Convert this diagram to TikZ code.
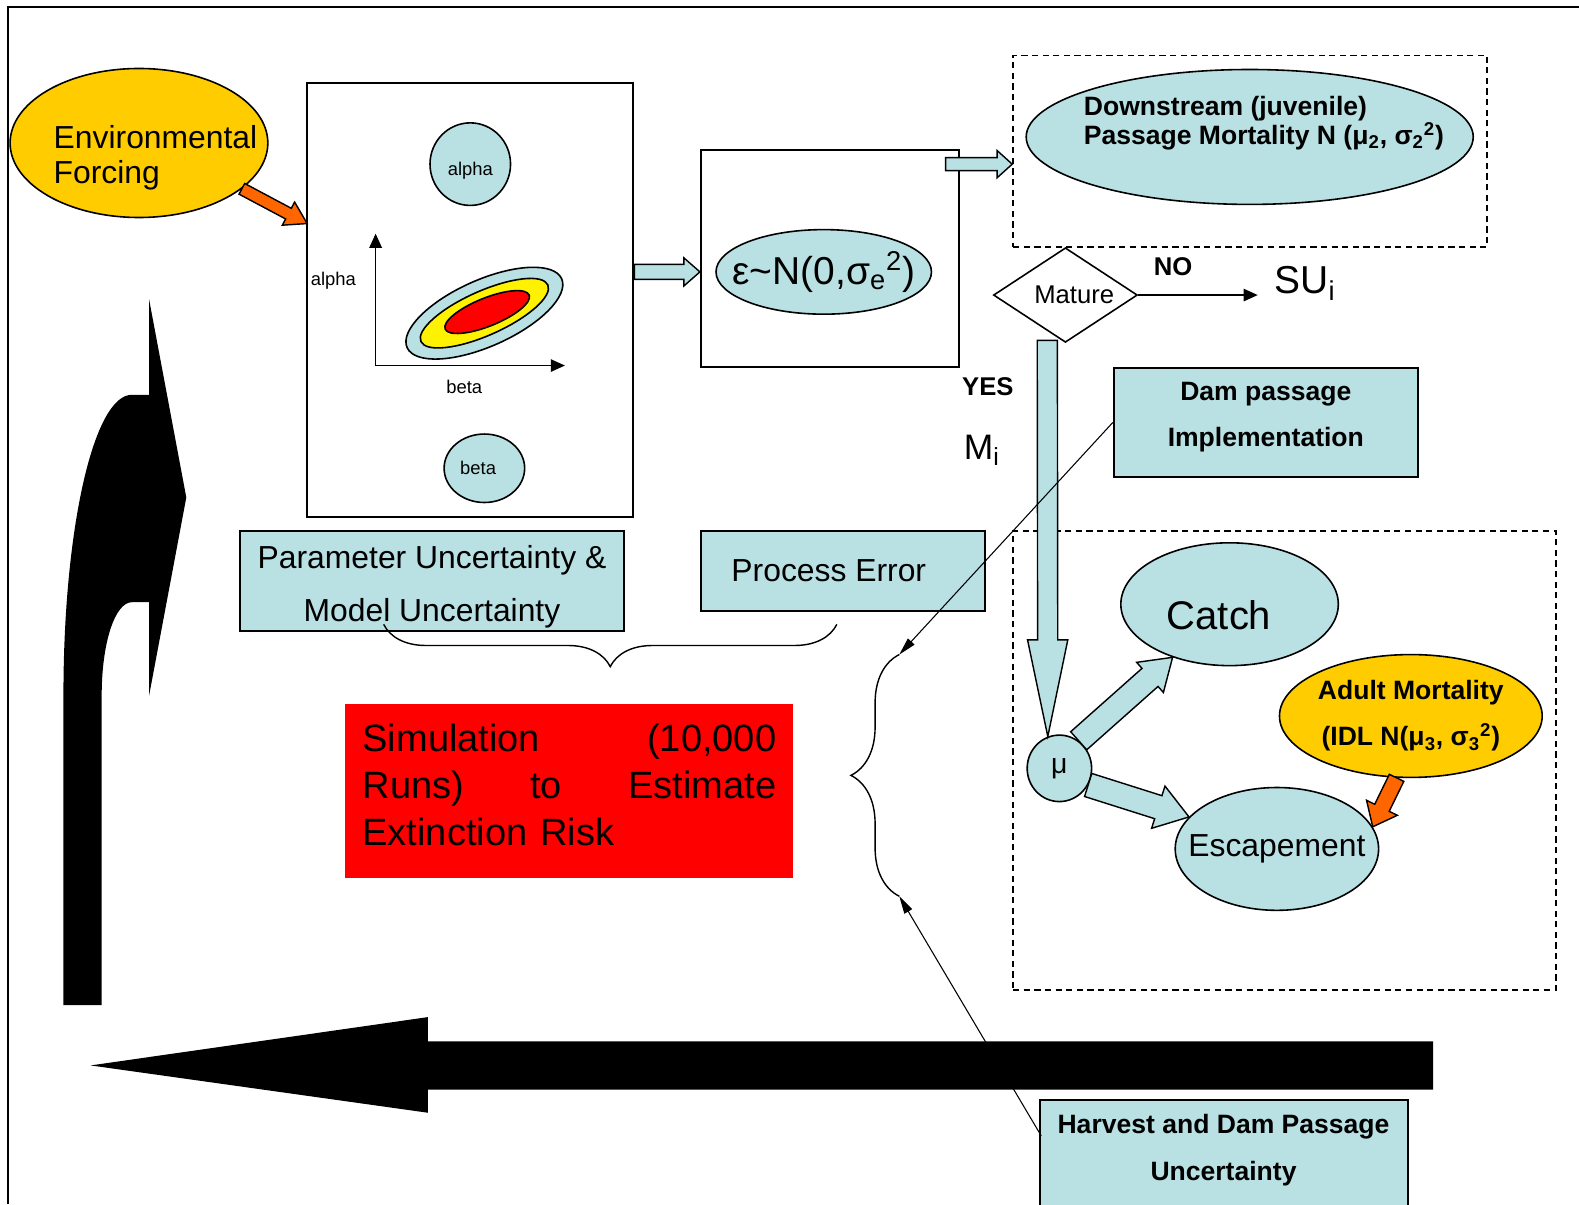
\documentclass[tikz,border=0pt]{standalone}
\usepackage{fontspec}
\setmainfont{Liberation Sans}
\usepackage{tikz}
\usetikzlibrary{shapes.geometric}
\usetikzlibrary{calc}
\usetikzlibrary{arrows.meta}
\usetikzlibrary{decorations.pathreplacing}
\usetikzlibrary{positioning}
\definecolor{paleblue}{HTML}{B9E0E3}
\definecolor{gold}{HTML}{FFCC00}
\definecolor{orangeA}{HTML}{FF6600}
\newcommand{\fsz}[2]{\fontsize{#1}{#2}\selectfont}
\tikzset{
  plainbox/.style={draw, line width=1.1pt, inner sep=0pt}, % Rechtecke
  bluebox/.style={plainbox, fill=paleblue},
  blob/.style={ellipse, draw, line width=0.9pt, fill=paleblue, inner sep=0pt},
  dashbox/.style={draw, line width=1pt, dash pattern=on 3.5pt off 2.5pt},
  smalltxt/.style={font=\fsz{10.4}{12}},
  boldtxt/.style={font=\bfseries\fsz{15}{26}},
  thinline/.style={line width=0.6pt, -{Triangle[length=10pt,width=5pt]}},
  bracket/.style={line width=0.8pt, decorate}
}
% Blockpfeil: [Farbe]{von}{nach}{Schaft}{Spitze}{Spitzenlaenge}
\newcommand{\fatarrow}[6][paleblue]{%
  \coordinate (fa-h) at ($(#3)!#6!(#2)$);
  \filldraw[fill=#1, line width=0.8pt]
    ($(#2)!#4!90:(#3)$) -- ($(fa-h)!#4!90:(#3)$) -- ($(fa-h)!#5!90:(#3)$)
    -- (#3) -- ($(fa-h)!#5!-90:(#3)$) -- ($(fa-h)!#4!-90:(#3)$)
    -- ($(#2)!#4!-90:(#3)$) -- cycle;
}
\begin{document}
\begin{tikzpicture}[x=0.02cm, y=-0.02cm,
  font=\fsz{18}{22},
  >={Triangle[length=8pt,width=7pt]} % Pfeilspitzen
]
\useasboundingbox (0,0) rectangle (1568,1196);

%Rahmen
\draw[line width=1.1pt] (8,1196) -- (8,7) -- (1568,7);

%Rueckkopplung links
\fill (63,998) -- (63,690) .. controls (63,525) and (93,392) .. (131,392) -- (148,392)
  -- (148,297) -- (185,494) -- (148,691) -- (148,598) -- (131,598)
  .. controls (114,598) and (101,639) .. (101,690) -- (101,998) -- cycle;

%Parameter
\node[ellipse, draw, line width=0.9pt, fill=gold, minimum width=5.12cm, minimum height=2.96cm] (env) at (138,142) {};
\node[anchor=west, align=left, inner sep=0pt, font=\fsz{18}{19.8}] (envtxt) at (53,157) {Environmental\\Forcing};
\node[plainbox, minimum width=6.48cm, minimum height=8.62cm] (parbox) at (467,297.5) {};
\node[blob, minimum width=1.6cm, minimum height=1.64cm, smalltxt] (alpha) at (467,163) {\raisebox{-3.5pt}[\height][\depth]{alpha}};
\node[blob, minimum width=1.6cm, minimum height=1.36cm, smalltxt] (beta) at (481,465) {beta\hspace{0.25cm}\mbox{}};
\coordinate (orig) at (373,363);
\coordinate (ytop) at (373,232);
\coordinate (xend) at (561,363);
\draw[line width=0.9pt, ->] (orig) -- (ytop);
\draw[line width=0.9pt, ->] (orig) -- (xend);
\node[smalltxt] (alab) at (331,279) {alpha};
\node[smalltxt] (blab) at (461,384) {beta};
\coordinate (ctr) at (481,311);
\filldraw[fill=paleblue, line width=0.9pt, rotate around={24:(ctr)}] (ctr) ellipse [x radius=84, y radius=33];
\filldraw[fill=yellow, line width=0.9pt, rotate around={24:(ctr)}] (ctr) ellipse [x radius=69, y radius=22];
\filldraw[fill=red, line width=0.9pt, rotate around={22:(ctr)}] ($(ctr)+(3,0)$) ellipse [x radius=45, y radius=14];

%Prozessfehler
\node[plainbox, minimum width=5.12cm, minimum height=4.3cm] (prbox) at (824,256.5) {};
\node[blob, inner xsep=-9.5pt, minimum width=4.28cm, minimum height=1.68cm, font=\fsz{22}{26}] (eps) at (818,270)
  {ε\textasciitilde N(0,σ\textsubscript{e}\textsuperscript{2})};

%Abwanderung
\node[dashbox, minimum width=9.42cm, minimum height=3.8cm] (dnbox) at (1241.5,150) {};
\node[blob, minimum width=8.88cm, minimum height=2.68cm] (down) at (1241,136) {};
\node[anchor=west, align=left, inner sep=0pt, font=\bfseries\fsz{15}{16.5}] (downtxt) at (1076,122)
  {Downstream (juvenile)\\Passage Mortality N (μ\textsubscript{2}, σ\textsubscript{2}\textsuperscript{2})};
\node[diamond, draw, line width=0.9pt, fill=white, aspect=1.52, minimum width=2.86cm, minimum height=1.88cm,
  inner sep=0pt, font=\fsz{14.5}{16}] (mature) at (1058,293) {\hspace{0.35cm}Mature};
\coordinate (su-in) at (1249,293);
\draw[line width=0.9pt, ->] (mature.east) -- (su-in);
\node[font=\bfseries\fsz{14.5}{16}] (no) at (1165,265) {NO};
\node[font=\fsz{22}{26}] (su) at (1296,281) {SU\textsubscript{i}};
\node[font=\bfseries\fsz{14.5}{16}] (yes) at (981,384) {YES};
\node[font=\fsz{20}{24}] (mi) at (975,447) {M\textsubscript{i}};
\node[bluebox, minimum width=6.04cm, minimum height=2.18cm] (dam) at (1257,419.5) {};
\node[align=center, boldtxt] (damtxt) at (1257,414) {Dam passage\\Implementation};

%Rueckkehr
\node[dashbox, minimum width=10.78cm, minimum height=9.12cm] (upbox) at (1275.5,755) {};
\node[blob, minimum width=4.32cm, minimum height=2.44cm, font=\fsz{22.6}{26}] (catch) at (1221,600)
  {\raisebox{-6pt}[\height][\depth]{Catch}\hspace{0.42cm}\mbox{}};
\node[blob, minimum width=1.28cm, minimum height=1.32cm, font=\fsz{16}{18}] (mu) at (1052,763) {μ};
\node[blob, fill=gold, minimum width=5.12cm, minimum height=2.44cm, align=center, boldtxt] (adult) at (1401,711)
  {Adult Mortality\\(IDL N(μ\textsubscript{3}, σ\textsubscript{3}\textsuperscript{2})};
\node[blob, inner xsep=-9.5pt, minimum width=4.04cm, minimum height=2.44cm] (esc) at (1268,843) {Escapement};

%Unsicherheiten
\node[bluebox, minimum width=7.64cm, minimum height=2cm] (paru) at (429,577) {};
\node[align=center, font=\fsz{18}{30}] (parutxt) at (429,583) {Parameter Uncertainty \&\\Model Uncertainty};
\node[bluebox, minimum width=5.64cm, minimum height=1.6cm] (prerr) at (837,567) {Process Error\hspace{0.56cm}\mbox{}};
\node[fill=red, minimum width=8.9cm, minimum height=3.46cm] (sim) at (565.5,785.5) {};
\node[text width=8.22cm, align=left, inner sep=0pt, font=\fsz{21.5}{26.6}] (simtxt) at (565.5,779)
  {Simulation\hfill(10,000\\Runs)\hfill to\hfill Estimate\\Extinction Risk};
\node[bluebox, minimum width=7.3cm, minimum height=2.72cm] (harv) at (1215.5,1160) {};
\node[align=center, font=\bfseries\fsz{15}{26.6}] (harvtxt) at (1215,1142) {Harvest and Dam Passage\\Uncertainty};

%Klammern
\coordinate (hb-l) at (381,620);
\coordinate (hb-r) at (831,620);
\coordinate (vb-top) at (893,650);
\coordinate (vb-bot) at (893,890);
\draw[bracket, decoration={brace, mirror, amplitude=0.84cm}] (hb-l) -- (hb-r);
\draw[bracket, decoration={brace, amplitude=0.96cm}] (vb-bot) -- (vb-top);

%Blockpfeile
\coordinate (env-in) at (305,222);
\coordinate (pa-out) at (parbox.east |- eps.west);
\coordinate (pr-in) at (prbox.west |- eps.west);
\coordinate (pr-out) at (939,163);
\coordinate (dn-in) at (dnbox.west |- pr-out);
\coordinate (yes-out) at (1040,338);
\fatarrow[orangeA]{env.336}{env-in}{0.12cm}{0.26cm}{0.42cm}
\fatarrow{pa-out}{pr-in}{0.15cm}{0.28cm}{0.32cm}
\fatarrow{pr-out}{dn-in}{0.13cm}{0.27cm}{0.3cm}
\fatarrow{yes-out}{mu.110}{0.2cm}{0.4cm}{1.92cm}
\fatarrow{mu.55}{catch.223}{0.24cm}{0.4cm}{0.6cm}
\fatarrow{mu.330}{esc.160}{0.24cm}{0.44cm}{0.64cm}
\fatarrow[orangeA]{adult.257}{esc.13}{0.16cm}{0.34cm}{0.42cm}

%Verweise
\coordinate (hv-in) at (1034,1128);
\draw[thinline] (dam.west) -- (vb-top);
\draw[thinline] (hv-in) -- (vb-bot);

%Zeitachse
\fill (90,1058) -- (425,1010) -- (425,1034) -- (1423,1034) -- (1423,1082) -- (425,1082) -- (425,1105) -- cycle;

\end{tikzpicture}
\end{document}
